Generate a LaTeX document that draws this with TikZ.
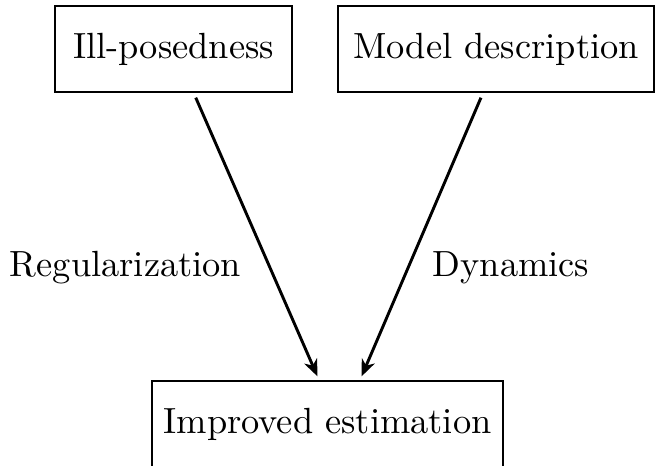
\documentclass[tikz,border=0pt]{standalone}
\usetikzlibrary{arrows.meta}
\begin{document}
\begin{tikzpicture}[x=0.2747pt, y=-0.2747pt,
  box/.style={draw, line width=0.4pt, inner sep=0pt, minimum height=23.6pt},
  flow/.style={line width=0.8pt, -{Stealth[length=4.6pt, width=3.8pt, inset=1.4pt]}},
  lbl/.style={inner sep=0pt}]
  \useasboundingbox (0,0) rectangle (657,466);
  % source boxes
  \node[box, minimum width=65.1pt] (ill) at (173.5,49) {Ill-posedness};
  \node[box, minimum width=86.8pt] (model) at (496,49) {Model description};
  % target box
  \node[box, minimum width=96.4pt] (est) at (327.5,424) {Improved estimation};
  % edge labels
  \node[lbl] (reg) at (125.5,268) {Regularization};
  \node[lbl] (dyn) at (511,268) {Dynamics};
  % connectors, leaving a small gap at both boxes
  \draw[flow] ([shift={(0,5)}]ill.-63.4) -- ([shift={(0,-4)}]est.103.7);
  \draw[flow] ([shift={(0,5)}]model.-109.2) -- ([shift={(0,-4)}]est.52.9);
\end{tikzpicture}
\end{document}
